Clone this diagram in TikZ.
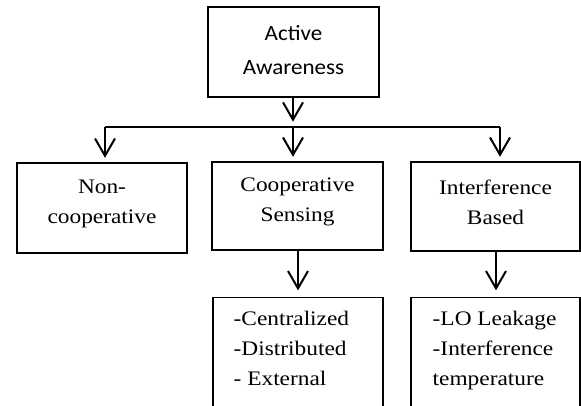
\documentclass[tikz,border=0pt]{standalone}
\usepackage{fontspec}
\setmainfont[FakeStretch=1.13]{Liberation Serif}
\newfontfamily\carlito[FakeStretch=1.06]{Carlito}
\usetikzlibrary{arrows.meta}
\begin{document}
\begin{tikzpicture}[x=0.75pt,y=-0.75pt,
  box/.style={draw=black,line width=0.8pt,rectangle,inner sep=0pt},
  serif/.style={font=\fontsize{15.5}{22.5}\selectfont,align=center},
  label/.style={serif,yshift=3pt},
  conn/.style={line width=1.5pt},
  arr/.style={conn,-{Straight Barb[length=13pt,width=15pt,line width=1.5pt]}}]
\useasboundingbox (0,0) rectangle (581,405);
\clip (0,0) rectangle (581,405);
% root
\node[box,minimum width=128.25pt,minimum height=67.5pt] (top) at (293.5,52) {};
\node[font=\carlito\fontsize{16.3}{25.5}\selectfont,align=center,yshift=1.5pt]
      (topt) at (top) {Active\\Awareness};
% second level
\node[box,minimum width=127.5pt,minimum height=67.5pt] (nc) at (102,208) {};
\node[box,minimum width=128.25pt,minimum height=66pt] (cs) at (297.5,206) {};
\node[box,minimum width=126.75pt,minimum height=66.75pt] (ib) at (495.5,206.5) {};
\node[label] (nct) at (nc) {Non-\\cooperative};
\node[label] (cst) at (cs) {Cooperative\\Sensing};
\node[label] (ibt) at (ib) {Interference\\Based};
% third level (boxes run past the lower edge)
\node[box,minimum width=127.5pt,minimum height=112.5pt,anchor=north] (lc) at (298,297) {};
\node[box,minimum width=126.75pt,minimum height=112.5pt,anchor=north] (lr) at (495.5,297) {};
\node[serif,align=left,anchor=north west] (lct) at (229,306)
      {-Centralized\\-Distributed\\- External};
\node[serif,align=left,anchor=north west] (lrt) at (428,306)
      {-LO Leakage\\-Interference\\temperature};
% distribution bar
\coordinate (b1) at (105,127);
\coordinate (bm) at (293,127);
\coordinate (b3) at (500,127);
\draw[conn] (b1) -- (b3);
\draw[arr,shorten >=4pt] (top.south -| bm) -- (bm);
\draw[arr,shorten >=3.5pt] (b1) -- (b1 |- nc.north);
\draw[arr,shorten >=3.5pt] (bm) -- (bm |- cs.north);
\draw[arr,shorten >=3.5pt] (b3) -- (b3 |- ib.north);
% to the lists
\draw[arr,shorten >=5pt] (cs.south -| lc) -- (lc.north);
\draw[arr,shorten >=5pt] (ib.south -| 496,0) -- (lr.north -| 496,0);
\end{tikzpicture}
\end{document}
